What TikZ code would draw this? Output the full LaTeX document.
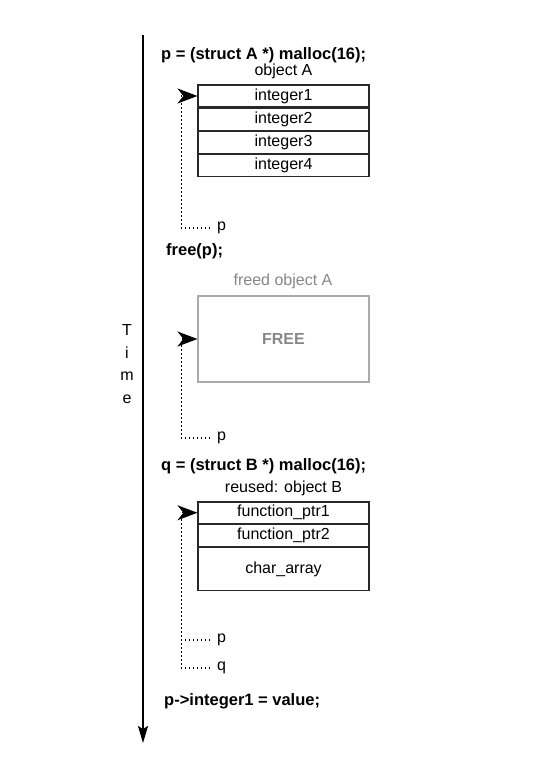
\documentclass[tikz,border=0pt]{standalone}
\usepackage{fontspec}
\setmainfont{Liberation Sans}
\usetikzlibrary{positioning,arrows.meta}
\definecolor{Ink}{RGB}{40,40,40}
\definecolor{Ghost}{RGB}{135,135,135}
\definecolor{GhostLine}{RGB}{170,170,170}

\begin{document}
\begin{tikzpicture}[x=1pt,y=-1pt,node distance=0pt,
 cell/.style={draw=Ink,line width=1.1pt,minimum width=171pt,minimum height=22pt,inner sep=0pt,font=\fontsize{16}{19}\selectfont},
 code/.style={anchor=west,inner sep=0pt,font=\fontsize{16.5}{19}\selectfont\bfseries},
 lbl/.style={inner sep=0pt,font=\fontsize{16}{19}\selectfont},
 var/.style={anchor=west,inner xsep=7pt,inner ysep=0pt,font=\fontsize{16}{19}\selectfont},
 ptr/.style={dash pattern=on 1.3pt off 2.7pt,line width=1.3pt,-{Stealth[length=20pt,width=15pt,inset=6pt]}},
 pdots/.style={dash pattern=on 1.3pt off 2.7pt,line width=1.3pt},
 timeline/.style={line width=1.6pt,-{Stealth[length=17pt,width=10pt,inset=3pt]}}]
\useasboundingbox (0,0) rectangle (550,779);

% time axis
\coordinate (t0) at (143,35);
\coordinate (t1) at (143,743);
\draw[timeline] (t0) -- (t1);
\node[lbl,align=center,font=\fontsize{16}{22.5}\selectfont] (time) at (127,364) {T\\i\\m\\e};

% step 1: malloc A
\node[code] (mallocA) at (161,55) {p = (struct A *) malloc(16);};
\node[lbl] (objA) at (283.5,71) {object A};
\node[cell] (a1) at (283.5,96) {integer1};
\node[cell,below=of a1] (a2) {integer2};
\node[cell,below=of a2] (a3) {integer3};
\node[cell,below=of a3] (a4) {integer4};
\node[var] (pa) at (210,228) {p};
\draw[ptr] (pa.west) -| ([xshift=-16pt]a1.west) -- (a1.west);

% step 2: free
\node[code] (freeA) at (166,251) {free(p);};
\node[lbl,text=Ghost] (freedA) at (283,281) {freed object A};
\node[draw=GhostLine,line width=1.1pt,minimum width=171pt,minimum height=86pt,inner sep=0pt,
 text=Ghost,font=\fontsize{16}{19}\selectfont\bfseries] (free) at (283.5,339) {FREE};
\node[var] (pf) at (210,438) {p};
\draw[ptr] (pf.west) -| ([xshift=-16pt]free.west) -- (free.west);

% step 3: malloc B reuses the chunk
\node[code] (mallocB) at (161,466) {q = (struct B *) malloc(16);};
\node[lbl] (objB) at (283.5,488) {reused: object B};
\node[cell,minimum height=21.5pt] (b1) at (283.5,512.75) {function\_ptr1};
\node[cell,below=of b1] (b2) {function\_ptr2};
\node[cell,below=of b2,minimum height=43pt] (b3) {char\_array};
\coordinate (bc) at ([xshift=-16pt]b1.west);
\node[var] (pb) at (210,640) {p};
\node[var] (qb) at (210,668) {q};
\draw[ptr] (qb.west) -| (bc) -- (b1.west);
\draw[pdots] (pb.west) -- (pb.west -| bc);

% step 4: use after free
\node[code] (use) at (164,701) {p->integer1 = value;};
\end{tikzpicture}
\end{document}
